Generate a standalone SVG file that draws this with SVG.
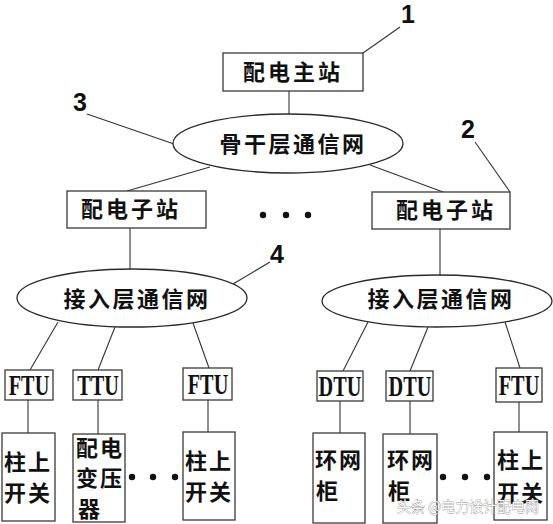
<svg xmlns="http://www.w3.org/2000/svg" width="553" height="524" viewBox="0 0 553 524">
<style>
.box{fill:#fff;stroke:#3a3a3a;stroke-width:1.3}
.ell{fill:#fff;stroke:#2a2a2a;stroke-width:1.3}
.ln{stroke:#333;stroke-width:1.1;fill:none}
.cn{font-family:"Noto Sans CJK SC","Noto Sans CJK TC",sans-serif;font-weight:bold;font-size:22px;fill:#111;text-anchor:middle}
.en{font-family:"Liberation Serif","DejaVu Serif",serif;font-weight:bold;font-size:29px;fill:#111;text-anchor:middle}
.num{font-family:"Liberation Sans Narrow","Liberation Sans",sans-serif;font-weight:bold;font-size:25px;fill:#111;text-anchor:middle}
.dot{fill:#111}
</style>
<rect width="553" height="524" fill="#fff"/>
<g id="connectors">
<line class="ln" x1="363" y1="53" x2="400" y2="27"/>
<line class="ln" x1="289" y1="91" x2="289" y2="114"/>
<line class="ln" x1="87" y1="114" x2="174" y2="144"/>
<line class="ln" x1="210" y1="167" x2="127" y2="191"/>
<line class="ln" x1="370" y1="165" x2="443" y2="192"/>
<line class="ln" x1="475" y1="142" x2="510" y2="192"/>
<line class="ln" x1="130" y1="228" x2="130" y2="269"/>
<line class="ln" x1="440" y1="229" x2="440" y2="275"/>
<line class="ln" x1="270" y1="262" x2="233" y2="284"/>
<line class="ln" x1="58" y1="322" x2="30" y2="370"/>
<line class="ln" x1="115" y1="327" x2="98" y2="370"/>
<line class="ln" x1="193" y1="323" x2="209" y2="368"/>
<line class="ln" x1="368" y1="322" x2="343" y2="371"/>
<line class="ln" x1="428" y1="327" x2="410" y2="371"/>
<line class="ln" x1="505" y1="322" x2="520" y2="368"/>
<line class="ln" x1="28" y1="400" x2="28" y2="433"/>
<line class="ln" x1="98" y1="400" x2="98" y2="434"/>
<line class="ln" x1="208" y1="400" x2="208" y2="432"/>
<line class="ln" x1="340" y1="401" x2="340" y2="433"/>
<line class="ln" x1="410" y1="401" x2="410" y2="434"/>
<line class="ln" x1="519" y1="402" x2="519" y2="432"/>
</g>
<g id="label-1"><text class="num" x="408" y="23">1</text></g>
<g id="label-2"><text class="num" x="468" y="138">2</text></g>
<g id="label-3"><text class="num" x="80" y="111">3</text></g>
<g id="label-4"><text class="num" x="277" y="263">4</text></g>
<g id="master-station">
<rect class="box" x="223" y="53" width="140" height="38"/>
<text class="cn" x="293" y="80" letter-spacing="3">配电主站</text>
</g>
<g id="backbone-network">
<ellipse class="ell" cx="288" cy="143.5" rx="115" ry="29.5"/>
<text class="cn" x="293" y="152" letter-spacing="2.5">骨干层通信网</text>
</g>
<g id="substation-left">
<rect class="box" x="67" y="191" width="139" height="37"/>
<text class="cn" x="131" y="217" letter-spacing="3">配电子站</text>
</g>
<g id="substation-right">
<rect class="box" x="372" y="192" width="138" height="37"/>
<text class="cn" x="446" y="218" letter-spacing="3">配电子站</text>
</g>
<g id="dots-substations">
<circle class="dot" cx="263" cy="215" r="3.2"/>
<circle class="dot" cx="286" cy="215" r="3.2"/>
<circle class="dot" cx="308" cy="215" r="3.2"/>
</g>
<g id="access-network-left">
<ellipse class="ell" cx="132" cy="298" rx="115" ry="29"/>
<text class="cn" x="137" y="307" letter-spacing="2.5">接入层通信网</text>
</g>
<g id="access-network-right">
<ellipse class="ell" cx="437" cy="301" rx="115" ry="26"/>
<text class="cn" x="441" y="307" letter-spacing="2.5">接入层通信网</text>
</g>
<g id="ftu-1">
<rect class="box" x="5" y="370" width="48" height="30"/>
<text class="en" transform="translate(29 395) scale(0.7 1)">FTU</text>
</g>
<g id="ttu-1">
<rect class="box" x="73" y="370" width="49" height="30"/>
<text class="en" transform="translate(98 395) scale(0.7 1)">TTU</text>
</g>
<g id="ftu-2">
<rect class="box" x="183" y="368" width="49" height="32"/>
<text class="en" transform="translate(208 394) scale(0.7 1)">FTU</text>
</g>
<g id="dtu-1">
<rect class="box" x="317" y="371" width="46" height="30"/>
<text class="en" transform="translate(340 396) scale(0.7 1)">DTU</text>
</g>
<g id="dtu-2">
<rect class="box" x="386" y="371" width="47" height="30"/>
<text class="en" transform="translate(410 396) scale(0.7 1)">DTU</text>
</g>
<g id="ftu-3">
<rect class="box" x="496" y="368" width="46" height="34"/>
<text class="en" transform="translate(519 395) scale(0.7 1)">FTU</text>
</g>
<g id="pole-switch-1">
<rect class="box" x="2" y="433" width="53" height="88"/>
<text class="cn" x="28" y="470" letter-spacing="2">柱上</text>
<text class="cn" x="28" y="501" letter-spacing="2">开关</text>
</g>
<g id="transformer">
<rect class="box" x="73" y="434" width="52" height="88"/>
<text class="cn" x="100" y="456" letter-spacing="2">配电</text>
<text class="cn" x="100" y="486" letter-spacing="2">变压</text>
<text class="cn" x="89" y="517">器</text>
</g>
<g id="dots-left">
<circle class="dot" cx="132" cy="477" r="3.2"/>
<circle class="dot" cx="153" cy="477" r="3.2"/>
<circle class="dot" cx="175" cy="477" r="3.2"/>
</g>
<g id="pole-switch-2">
<rect class="box" x="183" y="432" width="52" height="88"/>
<text class="cn" x="209" y="469" letter-spacing="2">柱上</text>
<text class="cn" x="209" y="500" letter-spacing="2">开关</text>
</g>
<g id="ring-main-1">
<rect class="box" x="313" y="433" width="52" height="90"/>
<text class="cn" x="339" y="468" letter-spacing="2">环网</text>
<text class="cn" x="327" y="499">柜</text>
</g>
<g id="ring-main-2">
<rect class="box" x="383" y="434" width="54" height="89"/>
<text class="cn" x="411" y="468" letter-spacing="2">环网</text>
<text class="cn" x="399" y="499">柜</text>
</g>
<g id="dots-right">
<circle class="dot" cx="443" cy="477" r="3.2"/>
<circle class="dot" cx="465" cy="477" r="3.2"/>
<circle class="dot" cx="487" cy="477" r="3.2"/>
</g>
<g id="pole-switch-3">
<rect class="box" x="494" y="432" width="53" height="88"/>
<text class="cn" x="521" y="468" letter-spacing="2">柱上</text>
<text class="cn" x="521" y="501" letter-spacing="2">开关</text>
</g>
<g id="watermark">
<text x="468" y="512" font-family="Noto Sans CJK SC,sans-serif" font-size="15" fill="#fafafa" stroke="#555" stroke-width="0.5" paint-order="stroke" text-anchor="middle" textLength="142" lengthAdjust="spacingAndGlyphs">头条 @电力设计配电网</text>
</g>
</svg>
